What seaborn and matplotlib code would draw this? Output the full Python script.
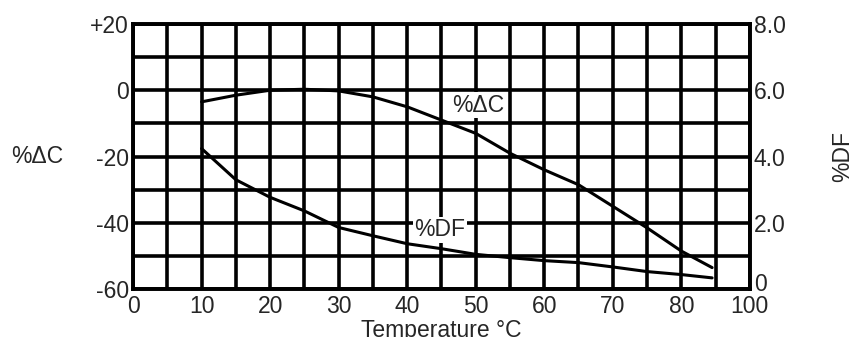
import matplotlib
matplotlib.use("Agg")
import matplotlib.pyplot as plt
import matplotlib.transforms as mtransforms
import seaborn as sns
import pandas as pd

# values
temp = [10, 15, 20, 25, 30, 35, 40, 45, 50, 55, 60, 65, 70, 75, 80, 84.5]
pct_dc = [-3.5, -1.5, 0.0, 0.3, -0.2, -2.0, -5.0, -9.0, -13.0, -19.0, -24.0, -28.5, -35.0, -41.5, -48.5, -53.5]
pct_df = [4.24, 3.3, 2.77, 2.36, 1.86, 1.61, 1.37, 1.22, 1.05, 0.95, 0.86, 0.8, 0.67, 0.53, 0.44, 0.34]

x_ticks = list(range(0, 95, 5))
x_labels = ["0", "", "10", "", "20", "", "30", "", "40", "", "50", "", "60", "", "70", "", "80", "", "100"]
left_ticks = list(range(-60, 30, 10))
left_labels = ["-60", "", "-40", "", "-20", "", "0", "", "+20"]
right_ticks = list(range(0, 9))
right_labels = ["0", "", "2.0", "", "4.0", "", "6.0", "", "8.0"]

df = pd.DataFrame({"temp": temp, "dc": pct_dc, "df": pct_df})

sns.set_style("white")
plt.rcParams["font.family"] = ["Liberation Sans", "DejaVu Sans"]
fs = 16.5

fig = plt.figure(figsize=(8.53, 3.37), dpi=100)
ax = fig.add_axes([0.156, 0.142, 0.723, 0.787])
ax2 = ax.twinx()

sns.lineplot(data=df, x="temp", y="dc", ax=ax, color="black", lw=2.2, zorder=3)
sns.lineplot(data=df, x="temp", y="df", ax=ax2, color="black", lw=2.2, zorder=3)

ax.set_xlim(0, 90)
ax.set_ylim(-60, 20)
ax2.set_ylim(0, 8)

ax.set_xticks(x_ticks)
ax.set_xticklabels(x_labels)
ax.set_yticks(left_ticks)
ax.set_yticklabels(left_labels)
ax2.set_yticks(right_ticks)
ax2.set_yticklabels(right_labels)

ax.grid(True, color="black", lw=2.6)
ax.set_axisbelow(True)
for a in (ax, ax2):
    for s in a.spines.values():
        s.set_linewidth(2.6)
        s.set_color("black")

ax.tick_params(axis="x", length=0, pad=4, labelsize=fs)
ax.tick_params(axis="y", length=0, pad=3, labelsize=fs)
ax2.tick_params(axis="y", length=0, pad=3, labelsize=fs)

# the right-hand "0" sits a little above the bottom edge in the reference
zero_lbl = ax2.get_yticklabels()[0]
zero_lbl.set_transform(zero_lbl.get_transform() +
                       mtransforms.ScaledTranslation(0, 5.5 / 72, fig.dpi_scale_trans))

ax.set_xlabel("Temperature \u00b0C", fontsize=fs, labelpad=1)
ax.set_ylabel("%\u0394C", fontsize=fs, rotation=0, va="center", ha="center")
ax.yaxis.set_label_coords(-0.156, 0.5)
ax2.set_ylabel("%DF", fontsize=fs, rotation=90, va="center", ha="center")
ax2.yaxis.set_label_coords(1.151, 0.5)

box = dict(facecolor="white", edgecolor="none", pad=1)
ax.text(50.4, -4.5, "%\u0394C", fontsize=fs, ha="center", va="center", bbox=box, zorder=5)
ax.text(44.8, -42.1, "%DF", fontsize=fs, ha="center", va="center", bbox=box, zorder=5)

fig.savefig("out.png", dpi=100)
